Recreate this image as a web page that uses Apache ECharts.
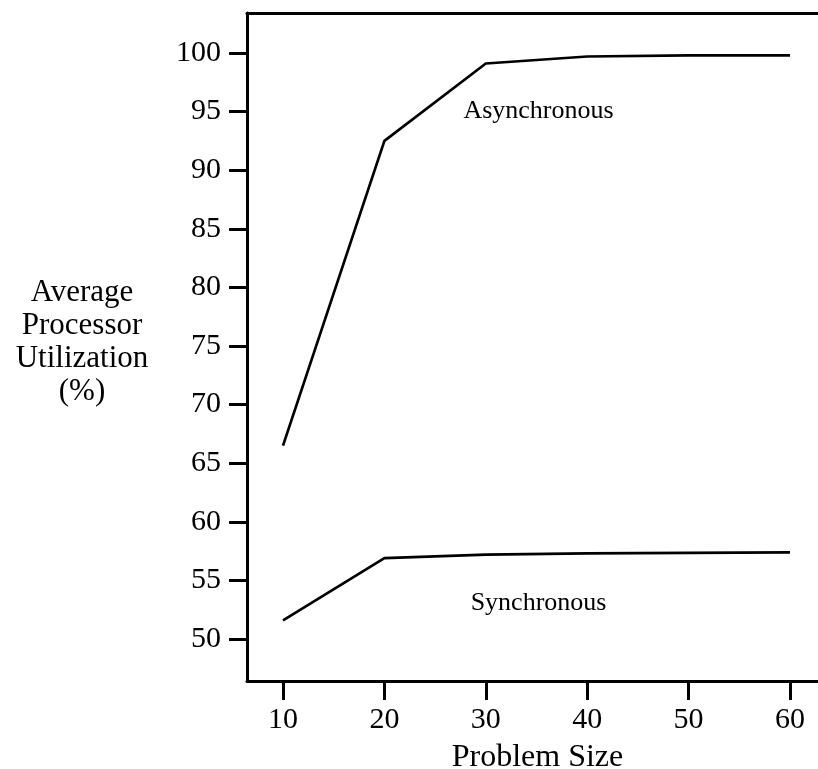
<!DOCTYPE html>
<html>
<head>
<meta charset="utf-8">
<script src="https://cdn.jsdelivr.net/npm/echarts@6/dist/echarts.min.js"></script>
<style>
  html, body { margin: 0; padding: 0; background: #fff; }
  #chart { width: 818px; height: 769px; }
</style>
</head>
<body>
<div id="chart"></div>
<script>
// values
const problemSize = [10, 20, 30, 40, 50, 60];
const asyncUtil = [66.5, 92.5, 99.1, 99.7, 99.8, 99.8];
const syncUtil = [51.6, 56.9, 57.2, 57.3, 57.35, 57.4];
const xTicks = [10, 20, 30, 40, 50, 60];
const yTicks = [50, 55, 60, 65, 70, 75, 80, 85, 90, 95, 100];

const serif = '"Liberation Serif", "Times New Roman", serif';

let chart = echarts.init(document.getElementById("chart"));

function pairs(xs, ys) {
  return xs.map((x, i) => [x, ys[i]]);
}

let option = {
  animation: false,
  grid: { left: 247, top: 13, right: 0, bottom: 88, outerBoundsMode: "none", containLabel: false },
  graphic: [
    {
      type: "text",
      x: 82,
      y: 342,
      style: {
        text: "Average\nProcessor\nUtilization\n(%)",
        align: "center",
        verticalAlign: "middle",
        font: "31px " + serif,
        lineHeight: 33,
        fill: "#000",
      },
    },
  ],
  xAxis: [
    {
      type: "value",
      min: 6.45,
      max: 62.76,
      name: "Problem Size",
      nameLocation: "middle",
      nameGap: 61,
      nameTextStyle: { fontFamily: serif, fontSize: 32, color: "#000", padding: [0, 0, 0, 10] },
      axisLine: { show: true, onZero: false, lineStyle: { color: "#000", width: 3 } },
      axisTick: { show: true, length: 19, customValues: xTicks, lineStyle: { color: "#000", width: 3 } },
      axisLabel: { customValues: xTicks, margin: 24, fontFamily: serif, fontSize: 30, color: "#000" },
      splitLine: { show: false },
    },
    {
      type: "value",
      position: "top",
      min: 6.45,
      max: 62.76,
      axisLine: { show: true, onZero: false, lineStyle: { color: "#000", width: 3 } },
      axisTick: { show: false },
      axisLabel: { show: false },
      splitLine: { show: false },
    },
  ],
  yAxis: {
    type: "value",
    min: 46.42,
    max: 103.41,
    axisLine: { show: true, onZero: false, lineStyle: { color: "#000", width: 3 } },
    axisTick: { show: true, length: 18, customValues: yTicks, lineStyle: { color: "#000", width: 3 } },
    axisLabel: { customValues: yTicks, margin: 26, fontFamily: serif, fontSize: 30, color: "#000" },
    splitLine: { show: false },
  },
  series: [
    {
      name: "Asynchronous",
      type: "line",
      data: pairs(problemSize, asyncUtil),
      showSymbol: false,
      lineStyle: { color: "#000", width: 2.7 },
      markPoint: {
        symbol: "circle",
        symbolSize: 0,
        label: {
          show: true,
          position: "inside",
          formatter: "Asynchronous",
          fontFamily: serif,
          fontSize: 26,
          color: "#000",
        },
        data: [{ coord: [35.2, 95] }],
      },
    },
    {
      name: "Synchronous",
      type: "line",
      data: pairs(problemSize, syncUtil),
      showSymbol: false,
      lineStyle: { color: "#000", width: 2.7 },
      markPoint: {
        symbol: "circle",
        symbolSize: 0,
        label: {
          show: true,
          position: "inside",
          formatter: "Synchronous",
          fontFamily: serif,
          fontSize: 26,
          color: "#000",
        },
        data: [{ coord: [35.2, 53.1] }],
      },
    },
  ],
};

option && chart.setOption(option);
</script>
</body>
</html>
